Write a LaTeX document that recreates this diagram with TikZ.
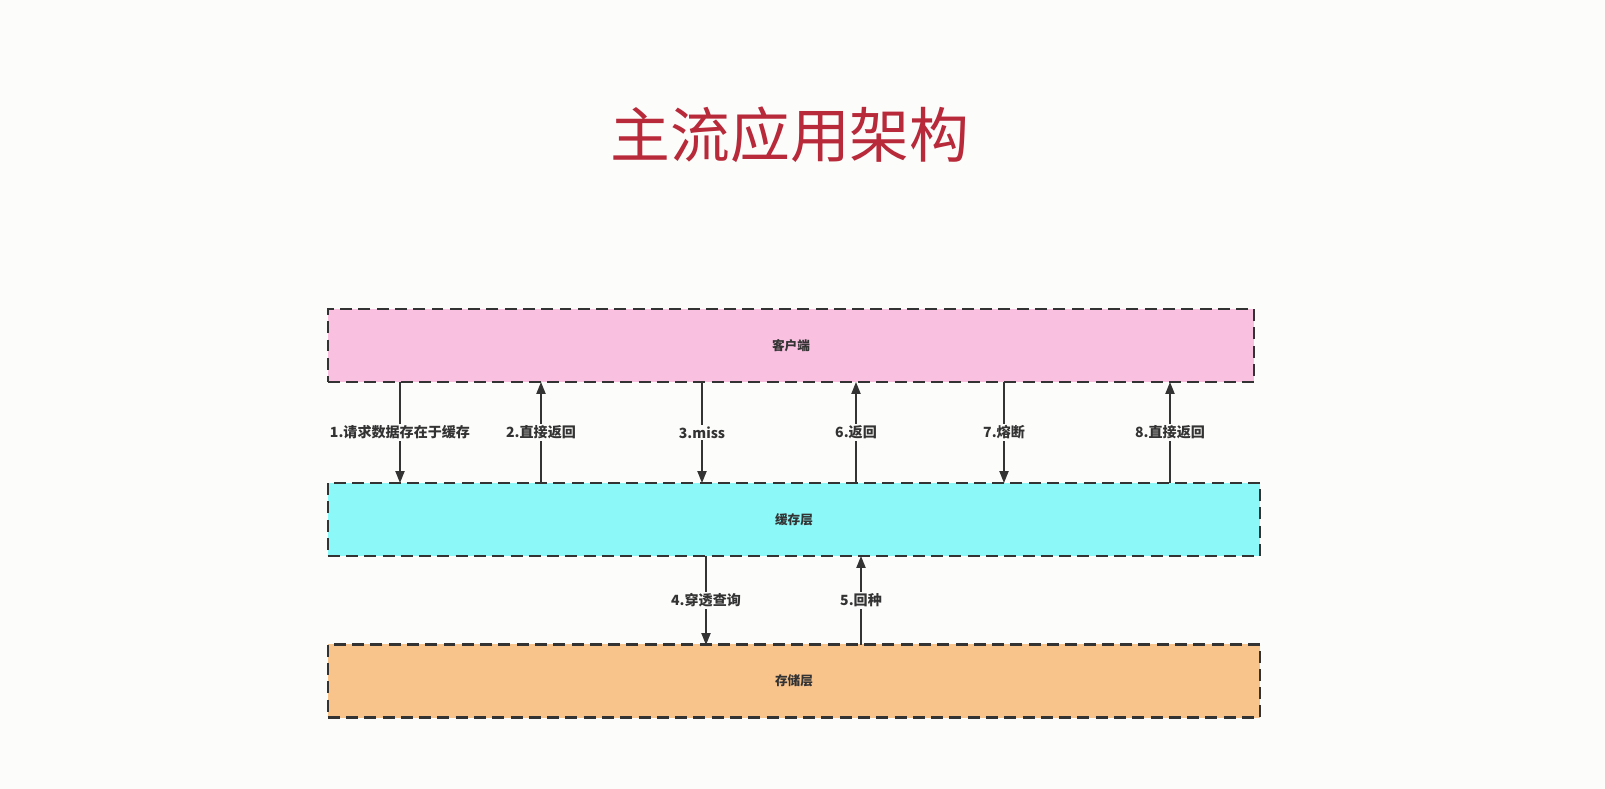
\documentclass[tikz,border=0pt]{standalone}
\usepackage{fontspec}
\newfontfamily\cjk{Noto Sans CJK SC}
\usetikzlibrary{arrows.meta}
\definecolor{bg}{HTML}{FCFCFA}
\definecolor{pinkc}{HTML}{F9C0E0}
\definecolor{cyanc}{HTML}{8CF8F8}
\definecolor{orangec}{HTML}{F8C48C}
\definecolor{titlec}{HTML}{B8293A}
\definecolor{linec}{HTML}{333333}
\tikzset{
  layer/.style={draw=linec, line width=0.6pt, dash pattern=on 3.4pt off 1.8pt, minimum height=0.73cm, inner sep=0pt, font=\cjk\bfseries\fontsize{3.6}{4}\selectfont, text=linec},
  conn/.style={draw=linec, line width=0.45pt, -{Triangle[length=3.4pt,width=2.6pt]}},
  lbl/.style={fill=bg, inner sep=0.5pt, font=\cjk\bfseries\fontsize{4}{5}\selectfont, text=linec}
}
\begin{document}
\begin{tikzpicture}[x=0.01cm,y=-0.01cm]
\fill[bg] (0,0) rectangle (1605,789);
\useasboundingbox (0,0) rectangle (1605,789);
\node[font=\cjk\fontsize{17}{20}\selectfont, text=titlec] (title) at (790,135) {主流应用架构};
\node[layer, fill=pinkc, minimum width=9.26cm] (client) at (791,345.5) {客户端};
\node[layer, fill=cyanc, minimum width=9.32cm] (cache) at (794,519.5) {缓存层};
\node[layer, fill=orangec, minimum width=9.32cm] (store) at (794,681) {存储层};
\foreach \x in {400,541,702,856,1004,1170}{
  \coordinate (a\x) at (\x,382);
  \coordinate (b\x) at (\x,483);
}
\draw[conn] (a400) -- node[lbl]{1.请求数据存在于缓存} (b400);
\draw[conn] (b541) -- node[lbl]{2.直接返回} (a541);
\draw[conn] (a702) -- node[lbl]{3.miss} (b702);
\draw[conn] (b856) -- node[lbl]{6.返回} (a856);
\draw[conn] (a1004) -- node[lbl]{7.熔断} (b1004);
\draw[conn] (b1170) -- node[lbl]{8.直接返回} (a1170);
\coordinate (c706) at (706,556); \coordinate (d706) at (706,645);
\coordinate (c861) at (861,556); \coordinate (d861) at (861,645);
\draw[conn] (c706) -- node[lbl]{4.穿透查询} (d706);
\draw[conn] (d861) -- node[lbl]{5.回种} (c861);
\end{tikzpicture}
\end{document}
